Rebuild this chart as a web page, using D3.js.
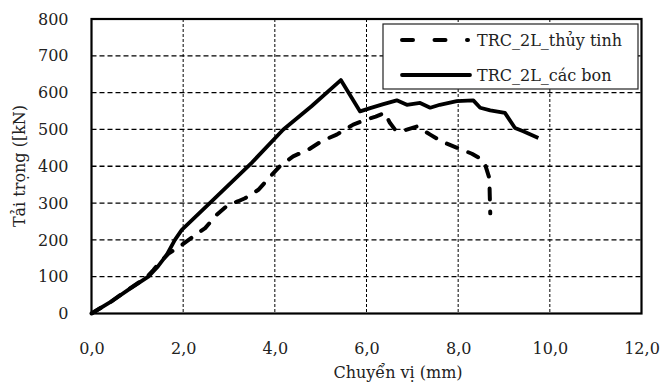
<!DOCTYPE html>
<html>
<head>
<meta charset="utf-8">
<script src="https://cdn.jsdelivr.net/npm/d3@7"></script>
<style>
  html, body { margin: 0; padding: 0; background: #fff; }
  svg { display: block; }
</style>
</head>
<body>
<svg id="chart" width="661" height="384"></svg>
<script>
// series (x: displacement mm, y: load kN)
const glassX = [0, 0.4, 0.8, 1.2, 1.35, 1.5, 1.68, 1.97, 2.22, 2.48, 2.73, 2.98, 3.2, 3.35, 3.64, 3.9, 4.11, 4.4, 4.73, 5.02, 5.35, 5.71, 6.0, 6.2, 6.4, 6.51, 6.62, 6.77, 7.1, 7.39, 7.66, 8.0, 8.3, 8.5, 8.59, 8.68, 8.69, 8.7];
const glassY = [0, 30, 65, 98, 118, 140, 163, 186, 209, 232, 268, 295, 305, 313, 336, 372, 400, 427, 445, 468, 486, 513, 527, 535, 545, 518, 500, 495, 508, 486, 466, 449, 434, 420, 404, 368, 318, 272];

const carbonX = [0, 0.4, 0.8, 1.24, 1.45, 1.64, 1.82, 1.97, 2.66, 3.5, 4.18, 4.8, 5.44, 5.86, 6.08, 6.35, 6.66, 6.88, 7.17, 7.39, 7.6, 7.97, 8.33, 8.48, 8.7, 9.02, 9.24, 9.42, 9.75];
const carbonY = [0, 30, 64, 100, 128, 159, 200, 227, 309, 410, 499, 563, 634, 549, 558, 568, 579, 567, 572, 559, 567, 577, 579, 559, 552, 545, 504, 495, 477];

const xTicks = [0, 2, 4, 6, 8, 10, 12];
const yTicks = [0, 100, 200, 300, 400, 500, 600, 700, 800];
const seriesNames = ['TRC_2L_thủy tinh', 'TRC_2L_các bon'];
const xTitle = 'Chuyển vị (mm)';
const yTitle = 'Tải trọng ([kN)';

const font = '"DejaVu Serif", serif';
const svg = d3.select('#chart');
const plot = { left: 91.5, right: 641.5, top: 19, bottom: 313.5 };

const x = d3.scaleLinear().domain([0, 12]).range([plot.left, plot.right]);
const y = d3.scaleLinear().domain([0, 800]).range([plot.bottom, plot.top]);

const fmt = d => d3.format('.1f')(d).replace('.', ',');

// horizontal grid
svg.append('g')
    .selectAll('line')
    .data(yTicks.filter(d => d > 0 && d < 800))
    .join('line')
    .attr('x1', plot.left).attr('x2', plot.right)
    .attr('y1', d => y(d)).attr('y2', d => y(d))
    .attr('stroke', '#000').attr('stroke-width', 1.3)
    .attr('stroke-dasharray', '5,3');

// vertical grid
svg.append('g')
    .selectAll('line')
    .data(xTicks.filter(d => d > 0 && d < 12))
    .join('line')
    .attr('x1', d => x(d)).attr('x2', d => x(d))
    .attr('y1', plot.top).attr('y2', plot.bottom)
    .attr('stroke', '#000').attr('stroke-width', 1)
    .attr('stroke-dasharray', '3,2');

// plot border
svg.append('rect')
    .attr('x', plot.left).attr('y', plot.top)
    .attr('width', plot.right - plot.left).attr('height', plot.bottom - plot.top)
    .attr('fill', 'none').attr('stroke', '#000').attr('stroke-width', 2.2);

// tick labels
svg.append('g')
    .attr('transform', `translate(0,${plot.bottom})`)
    .call(d3.axisBottom(x).tickValues(xTicks).tickFormat(fmt).tickSize(0).tickPadding(29))
    .call(g => g.select('.domain').remove())
    .call(g => g.selectAll('text').attr('font-family', font).attr('font-size', 16).attr('fill', '#222'));

svg.append('g')
    .attr('transform', `translate(${plot.left},0)`)
    .call(d3.axisLeft(y).tickValues(yTicks).tickSize(0).tickPadding(23))
    .call(g => g.select('.domain').remove())
    .call(g => g.selectAll('text').attr('font-family', font).attr('font-size', 16).attr('fill', '#222'));

// axis titles
svg.append('text')
    .attr('x', 398).attr('y', 378)
    .attr('text-anchor', 'middle')
    .attr('font-family', font).attr('font-size', 16).attr('fill', '#222')
    .text(xTitle);

svg.append('text')
    .attr('transform', `translate(25,166) rotate(-90)`)
    .attr('text-anchor', 'middle')
    .attr('font-family', font).attr('font-size', 16).attr('fill', '#222')
    .text(yTitle);

// series
const line = d3.line().x(d => x(d[0])).y(d => y(d[1]));
const glass = glassX.map((v, i) => [v, glassY[i]]);
const carbon = carbonX.map((v, i) => [v, carbonY[i]]);

svg.append('path')
    .datum(glass)
    .attr('fill', 'none').attr('stroke', '#000').attr('stroke-width', 4)
    .attr('stroke-linecap', 'round').attr('stroke-linejoin', 'round')
    .attr('stroke-dasharray', '11,12')
    .attr('d', line);

svg.append('path')
    .datum(carbon)
    .attr('fill', 'none').attr('stroke', '#000').attr('stroke-width', 3.8)
    .attr('stroke-linejoin', 'round')
    .attr('d', line);

// legend
const legend = svg.append('g');
legend.append('rect')
    .attr('x', 383).attr('y', 24).attr('width', 255).attr('height', 65)
    .attr('fill', '#fff').attr('stroke', '#222').attr('stroke-width', 1.2);

legend.append('line')
    .attr('x1', 402).attr('x2', 468).attr('y1', 40).attr('y2', 40)
    .attr('stroke', '#000').attr('stroke-width', 4)
    .attr('stroke-linecap', 'round').attr('stroke-dasharray', '11,21.5');
legend.append('line')
    .attr('x1', 402).attr('x2', 470).attr('y1', 75).attr('y2', 75)
    .attr('stroke', '#000').attr('stroke-width', 3.8).attr('stroke-linecap', 'round');

legend.selectAll('text')
    .data(seriesNames)
    .join('text')
    .attr('x', 477).attr('y', (d, i) => 45.5 + i * 35)
    .attr('font-family', font).attr('font-size', 16).attr('fill', '#222')
    .text(d => d);
</script>
</body>
</html>
